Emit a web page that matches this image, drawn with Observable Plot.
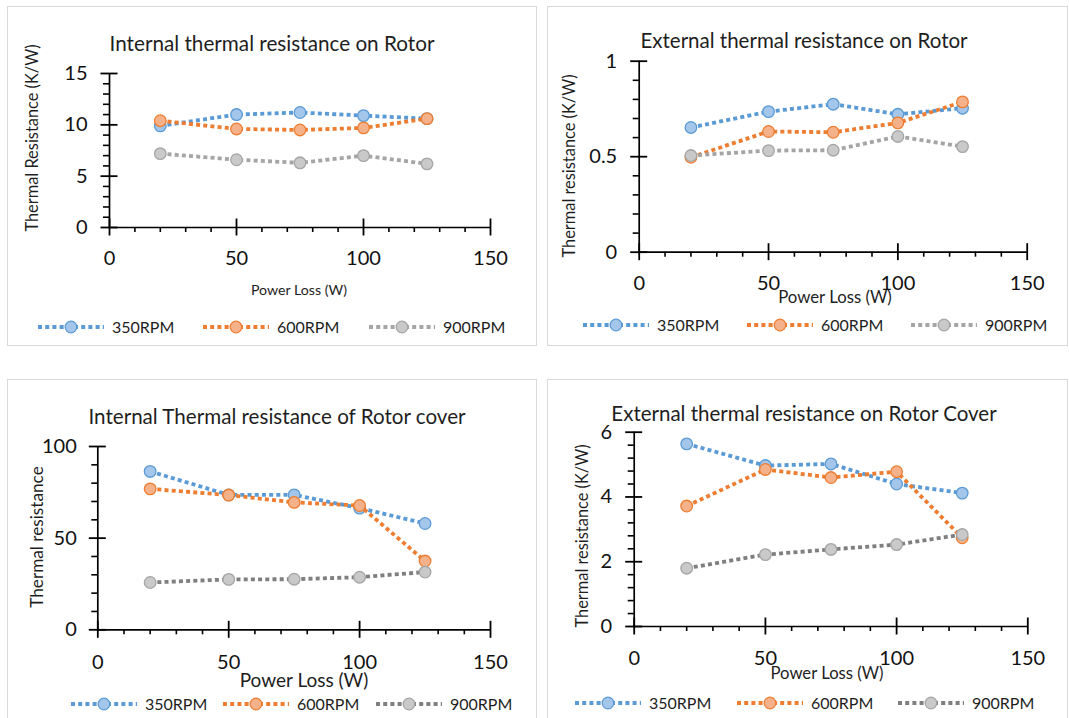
<!DOCTYPE html>
<html><head><meta charset="utf-8">
<script src="https://cdn.jsdelivr.net/npm/d3@7"></script>
<script src="https://cdn.jsdelivr.net/npm/@observablehq/plot@0.6"></script>
<style>
body{margin:0;background:#fff;font-family:Lato,sans-serif;}
#root{position:relative;width:1069px;height:718px;overflow:hidden;background:#fff}
.panel{position:absolute;border:1px solid #d9d9d9;box-sizing:border-box}
.t{position:absolute;white-space:nowrap;transform:translate(-50%,-50%);color:#1e1e1e;line-height:1}
.yl{position:absolute;white-space:nowrap;transform:translate(-50%,-50%) rotate(-90deg);color:#1e1e1e;line-height:1}
.lg{position:absolute;display:flex;align-items:center;transform:translateY(-50%);white-space:nowrap;color:#1e1e1e;line-height:1}
svg.plot{position:absolute;overflow:visible}
</style></head><body><div id="root"></div>
<script>
// ---- data ----
const powerLoss = [20, 50, 75, 100, 125];
const seriesNames = ["350RPM", "600RPM", "900RPM"];

const intRotor350 = [9.9, 11.0, 11.2, 10.9, 10.6];
const intRotor600 = [10.4, 9.6, 9.5, 9.7, 10.6];
const intRotor900 = [7.2, 6.6, 6.3, 7.0, 6.2];

const extRotor350 = [0.653, 0.736, 0.775, 0.722, 0.754];
const extRotor600 = [0.497, 0.632, 0.628, 0.677, 0.787];
const extRotor900 = [0.506, 0.532, 0.534, 0.606, 0.553];

const intCover350 = [86.4, 73.6, 73.6, 66.4, 58.0];
const intCover600 = [76.9, 73.5, 69.5, 67.8, 37.5];
const intCover900 = [25.8, 27.5, 27.6, 28.7, 31.5];

const extCover350 = [5.64, 4.97, 5.02, 4.40, 4.12];
const extCover600 = [3.72, 4.85, 4.60, 4.78, 2.74];
const extCover900 = [1.80, 2.22, 2.38, 2.53, 2.84];

const xMajorTicks = [0, 50, 100, 150];

// ---- styles ----
const BLUE = {line: "#5b9bd5", fill: "#a4c6ea", stroke: "#5b9bd5"};
const ORANGE = {line: "#ed7d31", fill: "#f5b28a", stroke: "#ed7d31"};
const GREY_L = {line: "#a5a5a5", fill: "#c9c9c9", stroke: "#a5a5a5"};
const GREY_D = {line: "#7f7f7f", fill: "#c9c9c9", stroke: "#a5a5a5"};
const DASH = "4,3.2";
const LW = 3.8;

const root = document.getElementById("root");

function addText(cls, txt, x, y, size) {
  const d = document.createElement("div");
  d.className = cls;
  d.textContent = txt;
  d.style.left = x + "px";
  d.style.top = y + "px";
  d.style.fontSize = size + "px";
  root.append(d);
}

function addLegend(items, y, size) {
  items.forEach(it => {
    const d = document.createElement("div");
    d.className = "lg";
    d.style.left = it.x + "px";
    d.style.top = y + "px";
    d.style.fontSize = size + "px";
    d.innerHTML = `<svg width="66" height="14" style="overflow:visible"><line x1="0" x2="66" y1="7" y2="7" stroke="${it.s.line}" stroke-width="${LW}" stroke-dasharray="${DASH}"/><circle cx="33" cy="7" r="5.8" fill="${it.s.fill}" stroke="${it.s.stroke}" stroke-width="1.3"/></svg><span style="margin-left:8px">${it.name}</span>`;
    root.append(d);
  });
}

function panel(cfg) {
  const [L, T, R, B] = cfg.box;
  const box = document.createElement("div");
  box.className = "panel";
  box.style.left = L + "px"; box.style.top = T + "px";
  box.style.width = (cfg.boxR - L) + "px"; box.style.height = (cfg.boxB - T) + "px";
  root.append(box);

  const yMinor = d3.range(0, cfg.yMax + 1e-9, cfg.yMinorStep).filter(v => !cfg.yMajor.some(m => Math.abs(m - v) < 1e-6));
  const xMinor = d3.range(10, 150, 10).filter(v => v % 50 !== 0);
  // pixel -> data unit factors for tick lengths
  const kY = cfg.yMax / (cfg.y0 - cfg.yTop);
  const kX = 150 / (cfg.x150 - cfg.x0);

  const marks = [
    // minor ticks (outside)
    Plot.ruleX(xMinor, {x: d => d, y1: -5 * kY, y2: 0, stroke: "#000", strokeWidth: 1.6}),
    Plot.ruleY(yMinor, {y: d => d, x1: -6 * kX, x2: 0, stroke: "#000", strokeWidth: 1.6}),
    // major ticks (cross)
    Plot.ruleX(xMajorTicks, {x: d => d, y1: -8.5 * kY, y2: 8.5 * kY, stroke: "#000", strokeWidth: 1.8}),
    Plot.ruleY(cfg.yMajor, {y: d => d, x1: -8.5 * kX, x2: 8.5 * kX, stroke: "#000", strokeWidth: 1.8}),
    // tick labels
    Plot.axisX(xMajorTicks, {tickSize: 0, tickPadding: cfg.xPad, fontSize: 20, fill: "#111", label: null, tickFormat: d => String(d)}),
    Plot.axisY(cfg.yMajor, {tickSize: 0, tickPadding: cfg.yPad, fontSize: 20, fill: "#111", label: null, tickFormat: d => String(d)}),
    // axis lines
    Plot.ruleY([0], {stroke: "#000", strokeWidth: 1.7}),
    Plot.ruleX([0], {stroke: "#000", strokeWidth: 1.7})
  ];
  cfg.series.forEach((s, i) => {
    const rows = powerLoss.map((x, j) => ({x, y: s.values[j], name: seriesNames[i]}));
    marks.push(Plot.line(rows, {x: "x", y: "y", stroke: s.style.line, strokeWidth: LW, strokeDasharray: DASH, strokeLinecap: "butt", strokeLinejoin: "miter"}));
    marks.push(Plot.dot(rows, {x: "x", y: "y", r: 5.8, fill: s.style.fill, stroke: s.style.stroke, strokeWidth: 1.3}));
  });

  const chart = Plot.plot({
    width: R - L, height: B - T,
    marginLeft: cfg.x0 - L, marginRight: R - cfg.x150,
    marginTop: cfg.yTop - T, marginBottom: B - cfg.y0,
    x: {domain: [0, 150], label: null},
    y: {domain: [0, cfg.yMax], label: null},
    style: {fontFamily: "Lato, sans-serif", background: "transparent", overflow: "visible"},
    marks
  });
  chart.classList.add("plot");
  chart.style.left = L + "px";
  chart.style.top = T + "px";
  root.append(chart);

  addText("t", cfg.title, cfg.titlePos[0], cfg.titlePos[1], cfg.titleSize);
  addText("yl", cfg.yLabel, cfg.yLabelPos[0], cfg.yLabelPos[1], cfg.yLabelSize);
  addText("t", "Power Loss (W)", cfg.xLabelPos[0], cfg.xLabelPos[1], cfg.xLabelSize);
  addLegend(cfg.legendX.map((x, i) => ({x, s: cfg.series[i].style, name: seriesNames[i]})), cfg.legendY, 16);
}

panel({
  box: [7, 6, 536, 345], boxR: 537, boxB: 346,
  x0: 109, x150: 490, y0: 227, yTop: 73, yMax: 15, yMajor: [0, 5, 10, 15], yMinorStep: 1,
  xPad: 23, yPad: 22,
  series: [{values: intRotor350, style: BLUE}, {values: intRotor600, style: ORANGE}, {values: intRotor900, style: GREY_L}],
  title: "Internal thermal resistance on Rotor", titlePos: [272, 43], titleSize: 20.7,
  yLabel: "Thermal Resistance (K/W)", yLabelPos: [32, 138], yLabelSize: 16.4,
  xLabelPos: [299, 290], xLabelSize: 14.2,
  legendX: [38, 203, 369], legendY: 327
});

panel({
  box: [547, 6, 1067, 345], boxR: 1068, boxB: 346,
  x0: 638.7, x150: 1026.7, y0: 251.7, yTop: 60.7, yMax: 1, yMajor: [0, 0.5, 1], yMinorStep: 0.1,
  xPad: 24, yPad: 22,
  series: [{values: extRotor350, style: BLUE}, {values: extRotor600, style: ORANGE}, {values: extRotor900, style: GREY_L}],
  title: "External thermal resistance on Rotor", titlePos: [804, 40], titleSize: 20.5,
  yLabel: "Thermal resistance (K/W)", yLabelPos: [569, 166], yLabelSize: 16.4,
  xLabelPos: [835, 297], xLabelSize: 16.8,
  legendX: [583, 747, 911], legendY: 325
});

panel({
  box: [7, 379, 536, 718], boxR: 537, boxB: 730,
  x0: 97.3, x150: 490, y0: 629.3, yTop: 446, yMax: 100, yMajor: [0, 50, 100], yMinorStep: 10,
  xPad: 25, yPad: 21,
  series: [{values: intCover350, style: BLUE}, {values: intCover600, style: ORANGE}, {values: intCover900, style: GREY_D}],
  title: "Internal Thermal resistance of Rotor cover", titlePos: [277, 416], titleSize: 20.6,
  yLabel: "Thermal resistance", yLabelPos: [37, 537], yLabelSize: 17.2,
  xLabelPos: [304, 679], xLabelSize: 19,
  legendX: [71, 223, 376], legendY: 704
});

panel({
  box: [547, 379, 1067, 718], boxR: 1068, boxB: 730,
  x0: 633.7, x150: 1027.3, y0: 626, yTop: 431.7, yMax: 6, yMajor: [0, 2, 4, 6], yMinorStep: 0.4,
  xPad: 24, yPad: 22,
  series: [{values: extCover350, style: BLUE}, {values: extCover600, style: ORANGE}, {values: extCover900, style: GREY_D}],
  title: "External thermal resistance on Rotor Cover", titlePos: [804, 413], titleSize: 20.5,
  yLabel: "Thermal resistance (K/W)", yLabelPos: [582, 536], yLabelSize: 16.4,
  xLabelPos: [827, 673], xLabelSize: 16.7,
  legendX: [575, 737, 898], legendY: 703
});
</script>
</body></html>
